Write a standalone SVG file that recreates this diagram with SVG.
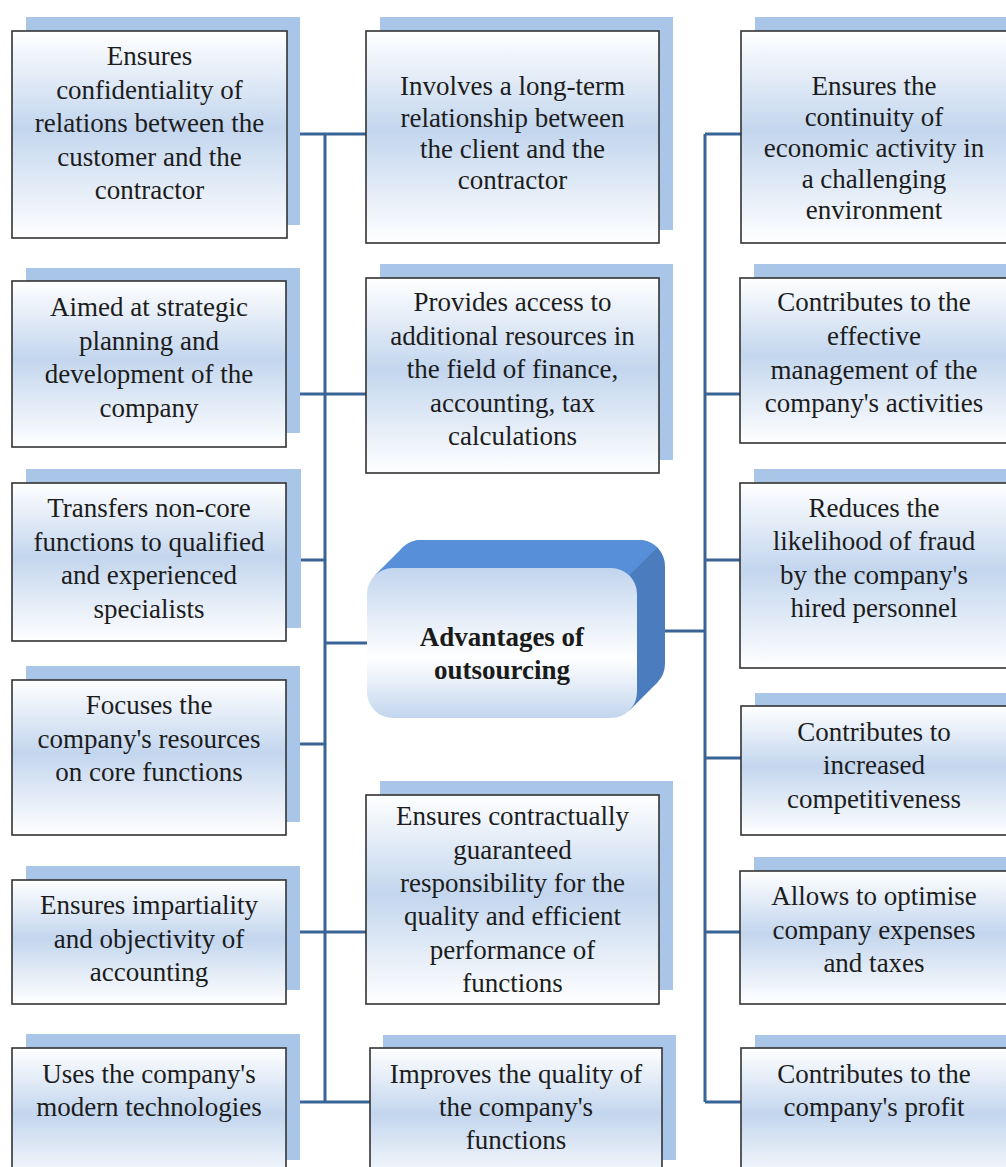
<svg xmlns="http://www.w3.org/2000/svg" width="1006" height="1167" viewBox="0 0 1006 1167" font-family="'Liberation Serif', 'Times New Roman', 'DejaVu Serif', serif">
<defs>
<linearGradient id="boxg" x1="0" y1="0" x2="0" y2="1">
<stop offset="0" stop-color="#ffffff"/>
<stop offset="0.47" stop-color="#c3d6ee"/>
<stop offset="1" stop-color="#ffffff"/>
</linearGradient>
<linearGradient id="cg" x1="0" y1="0" x2="0" y2="1">
<stop offset="0" stop-color="#c2d5ee"/>
<stop offset="0.6" stop-color="#ffffff"/>
<stop offset="1" stop-color="#c3d6ee"/>
</linearGradient>
</defs>
<style>
.sh{fill:#a9c5e8;}
.bx{fill:url(#boxg);stroke:#333333;stroke-width:1.6;}
.t{font-size:27px;fill:#1c1c1c;text-anchor:middle;}
.tb{font-size:27px;font-weight:bold;fill:#1a1a1a;text-anchor:middle;}
.cn{stroke:#3a6396;stroke-width:3;fill:none;}
</style>
<rect width="1006" height="1167" fill="#ffffff"/>

<g id="connectors">
<path class="cn" d="M325,134 V1102"/>
<path class="cn" d="M287,134 H366 M286,394 H366 M287,560 H325 M325,643 H367 M287,744 H325 M287,932 H366 M287,1102 H370"/>
<path class="cn" d="M705,134 V1102"/>
<path class="cn" d="M705,134 H741 M705,394 H740 M705,560 H740 M665,631 H705 M705,758 H741 M705,932 H740 M705,1102 H741"/>
</g>

<g id="L1">
<rect class="sh" x="26" y="17" width="274" height="208"/>
<rect class="bx" x="12" y="31" width="275" height="207"/>
<text class="t"><tspan x="149.5" y="65">Ensures</tspan><tspan x="149.5" y="98.5">confidentiality of</tspan><tspan x="149.5" y="132">relations between the</tspan><tspan x="149.5" y="165.5">customer and the</tspan><tspan x="149.5" y="199">contractor</tspan></text>
</g>
<g id="L2">
<rect class="sh" x="26" y="268" width="274" height="165"/>
<rect class="bx" x="12" y="281" width="274" height="166"/>
<text class="t"><tspan x="149" y="316">Aimed at strategic</tspan><tspan x="149" y="349.5">planning and</tspan><tspan x="149" y="383">development of the</tspan><tspan x="149" y="416.5">company</tspan></text>
</g>
<g id="L3">
<rect class="sh" x="26" y="469" width="275" height="159"/>
<rect class="bx" x="12" y="483" width="274" height="158"/>
<text class="t"><tspan x="149" y="517">Transfers non-core</tspan><tspan x="149" y="550.5">functions to qualified</tspan><tspan x="149" y="584">and experienced</tspan><tspan x="149" y="617.5">specialists</tspan></text>
</g>
<g id="L4">
<rect class="sh" x="26" y="666" width="274" height="156"/>
<rect class="bx" x="12" y="680" width="274" height="155"/>
<text class="t"><tspan x="149" y="714">Focuses the</tspan><tspan x="149" y="748">company's resources</tspan><tspan x="149" y="781">on core functions</tspan></text>
</g>
<g id="L5">
<rect class="sh" x="26" y="866" width="274" height="124"/>
<rect class="bx" x="12" y="880" width="274" height="124"/>
<text class="t"><tspan x="149" y="914">Ensures impartiality</tspan><tspan x="149" y="948">and objectivity of</tspan><tspan x="149" y="981">accounting</tspan></text>
</g>
<g id="L6">
<rect class="sh" x="26" y="1034" width="274" height="126"/>
<rect class="bx" x="12" y="1048" width="274" height="140"/>
<text class="t"><tspan x="149" y="1083">Uses the company's</tspan><tspan x="149" y="1116">modern technologies</tspan></text>
</g>

<g id="M1">
<rect class="sh" x="380" y="17" width="293" height="213"/>
<rect class="bx" x="366" y="31" width="293" height="212"/>
<text class="t"><tspan x="512.5" y="95">Involves a long-term</tspan><tspan x="512.5" y="127">relationship between</tspan><tspan x="512.5" y="158">the client and the</tspan><tspan x="512.5" y="189">contractor</tspan></text>
</g>
<g id="M2">
<rect class="sh" x="380" y="264" width="293" height="196"/>
<rect class="bx" x="366" y="278" width="293" height="195"/>
<text class="t"><tspan x="512.5" y="311">Provides access to</tspan><tspan x="512.5" y="345">additional resources in</tspan><tspan x="512.5" y="378">the field of finance,</tspan><tspan x="512.5" y="412">accounting, tax</tspan><tspan x="512.5" y="445">calculations</tspan></text>
</g>
<g id="center">
<rect x="395" y="540" width="270" height="150" rx="26" fill="#4a7cbe"/>
<path d="M374.6,575.6 L402.6,547.6 Q410,540 421,540 L639,540 Q650,540 657.4,547.6 L629.4,575.6 Z" fill="#578fd8"/>
<path d="M629.4,710.4 L657.4,682.4 L630,660 L600,690 Z" fill="#4a7cbe"/>
<rect x="367" y="568" width="270" height="150" rx="26" fill="url(#cg)"/>
<text class="tb"><tspan x="502" y="646">Advantages of</tspan><tspan x="502" y="679">outsourcing</tspan></text>
</g>
<g id="M3">
<rect class="sh" x="380" y="781" width="293" height="209"/>
<rect class="bx" x="366" y="795" width="293" height="209"/>
<text class="t"><tspan x="512.5" y="825">Ensures contractually</tspan><tspan x="512.5" y="859">guaranteed</tspan><tspan x="512.5" y="892">responsibility for the</tspan><tspan x="512.5" y="925">quality and efficient</tspan><tspan x="512.5" y="959">performance of</tspan><tspan x="512.5" y="992">functions</tspan></text>
</g>
<g id="M4">
<rect class="sh" x="383" y="1035" width="293" height="125"/>
<rect class="bx" x="370" y="1048" width="292" height="140"/>
<text class="t"><tspan x="516" y="1083">Improves the quality of</tspan><tspan x="516" y="1116">the company's</tspan><tspan x="516" y="1149">functions</tspan></text>
</g>

<g id="R1">
<rect class="sh" x="755" y="17" width="300" height="213"/>
<rect class="bx" x="741" y="31" width="300" height="212"/>
<text class="t"><tspan x="874" y="95">Ensures the</tspan><tspan x="874" y="126">continuity of</tspan><tspan x="874" y="157">economic activity in</tspan><tspan x="874" y="188">a challenging</tspan><tspan x="874" y="219">environment</tspan></text>
</g>
<g id="R2">
<rect class="sh" x="754" y="264" width="300" height="165"/>
<rect class="bx" x="740" y="278" width="300" height="165"/>
<text class="t"><tspan x="874" y="311">Contributes to the</tspan><tspan x="874" y="345">effective</tspan><tspan x="874" y="379">management of the</tspan><tspan x="874" y="412">company's activities</tspan></text>
</g>
<g id="R3">
<rect class="sh" x="754" y="469" width="300" height="185"/>
<rect class="bx" x="740" y="483" width="300" height="185"/>
<text class="t"><tspan x="874" y="517">Reduces the</tspan><tspan x="874" y="550">likelihood of fraud</tspan><tspan x="874" y="584">by the company's</tspan><tspan x="874" y="617">hired personnel</tspan></text>
</g>
<g id="R4">
<rect class="sh" x="755" y="693" width="300" height="129"/>
<rect class="bx" x="741" y="706" width="300" height="129"/>
<text class="t"><tspan x="874" y="741">Contributes to</tspan><tspan x="874" y="774">increased</tspan><tspan x="874" y="808">competitiveness</tspan></text>
</g>
<g id="R5">
<rect class="sh" x="754" y="857" width="300" height="133"/>
<rect class="bx" x="740" y="871" width="300" height="133"/>
<text class="t"><tspan x="874" y="905">Allows to optimise</tspan><tspan x="874" y="939">company expenses</tspan><tspan x="874" y="972">and taxes</tspan></text>
</g>
<g id="R6">
<rect class="sh" x="755" y="1035" width="300" height="125"/>
<rect class="bx" x="741" y="1048" width="300" height="140"/>
<text class="t"><tspan x="874" y="1083">Contributes to the</tspan><tspan x="874" y="1116">company's profit</tspan></text>
</g>
</svg>
